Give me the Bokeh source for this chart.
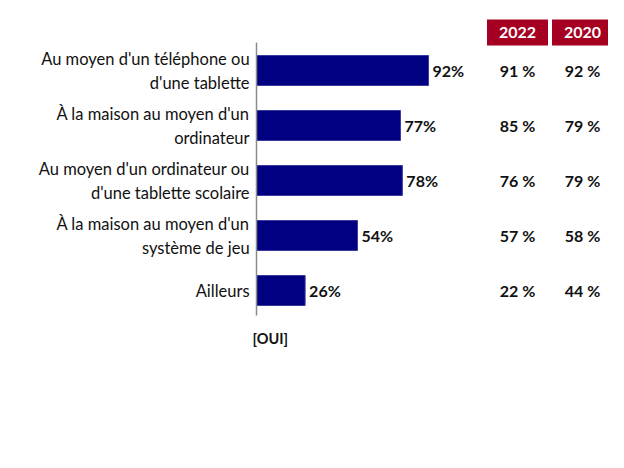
from bokeh.plotting import figure
from bokeh.models import Range1d, ColumnDataSource
from bokeh.core.properties import value
from bokeh.embed import file_html
from bokeh.resources import INLINE

categories = [
    "Au moyen d'un téléphone ou\nd'une tablette",
    "À la maison au moyen d'un\nordinateur",
    "Au moyen d'un ordinateur ou\nd'une tablette scolaire",
    "À la maison au moyen d'un\nsystème de jeu",
    "Ailleurs",
]
oui = [92, 77, 78, 54, 26]
col_years = ["2022", "2020"]
vals_2022 = [91, 85, 76, 57, 22]
vals_2020 = [92, 79, 79, 58, 44]

W, H = 608, 452
px_per_x = 1.87
x0_px = 256
x_start = -x0_px / px_per_x
x_end = (W - x0_px) / px_per_x
row_px = 55
y0_px = 70
y_top = -y0_px / row_px
y_bot = (H - y0_px) / row_px

p = figure(width=W, height=H, output_backend="svg", toolbar_location=None,
           x_range=Range1d(x_start, x_end), y_range=Range1d(y_bot, y_top),
           min_border=0, outline_line_color=None)
p.axis.visible = False
p.grid.visible = False
p.background_fill_color = "white"

ys = list(range(len(categories)))
src = ColumnDataSource(dict(y=ys, v=oui, lab=[f"{v}%" for v in oui], cat=categories,
                            v22=[f"{v} %" for v in vals_2022],
                            v20=[f"{v} %" for v in vals_2020]))

font = value("Lato")
txt = "#111111"
p.hbar(y="y", left=0, right="v", height=0.545, source=src,
       fill_color="#000080", line_color="#3a3aa0", line_width=1)

# axis line
p.segment(x0=[0], x1=[0], y0=[(42 - y0_px) / row_px], y1=[(315 - y0_px) / row_px],
          line_color="#8c8c8c", line_width=1.5)

# category labels
p.text(x=-3.7, y="y", text="cat", source=src, text_align="right", text_baseline="middle",
       text_font=font, text_font_size="16.5px", text_color=txt, text_line_height=1.2)

# value labels
p.text(x="v", y="y", text="lab", source=src, x_offset=4, text_align="left",
       text_baseline="middle", text_font=font, text_font_size="16px",
       text_font_style="bold", text_color=txt)

col_x = [(517 - x0_px) / px_per_x, (582 - x0_px) / px_per_x]
p.text(x=col_x[0], y="y", text="v22", source=src, text_align="center", text_baseline="middle",
       text_font=font, text_font_size="16px", text_font_style="bold", text_color=txt)
p.text(x=col_x[1], y="y", text="v20", source=src, text_align="center", text_baseline="middle",
       text_font=font, text_font_size="16px", text_font_style="bold", text_color=txt)

hy = (32 - y0_px) / row_px
p.rect(x=col_x, y=[hy, hy], width=61, height=26, width_units="screen", height_units="screen",
       fill_color="#A50021", line_color=None)
p.text(x=col_x, y=[hy, hy], text=col_years, text_align="center", text_baseline="middle",
       text_font=font, text_font_size="16px", text_font_style="bold", text_color="white")

p.text(x=[-2.1], y=[(338 - y0_px) / row_px], text=["[OUI]"], text_align="left",
       text_baseline="middle", text_font=font, text_font_size="14.5px",
       text_font_style="bold", text_color=txt)

open("out.html", "w").write(file_html(p, INLINE))
